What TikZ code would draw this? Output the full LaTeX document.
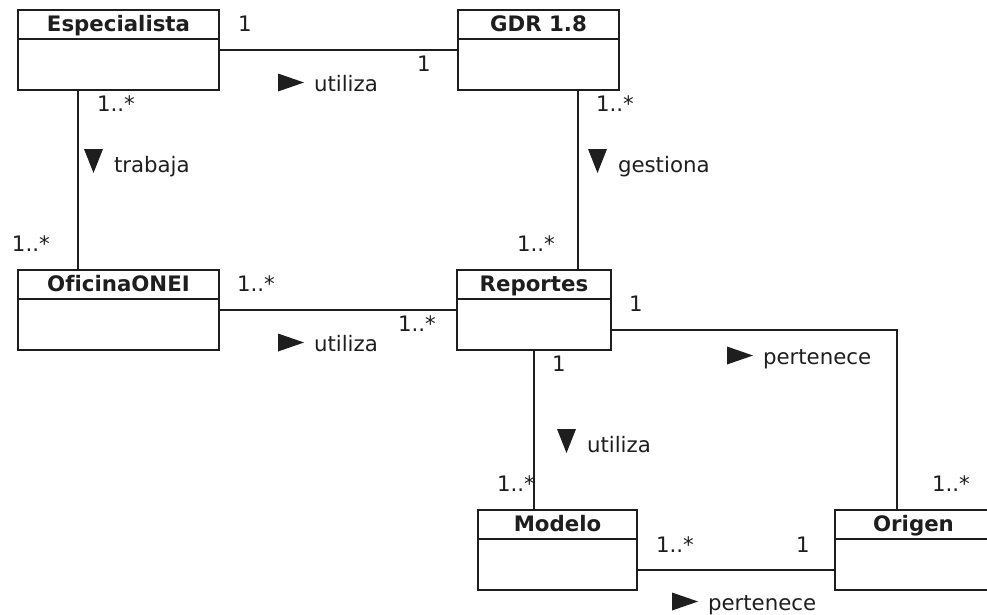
\documentclass[tikz,border=0pt]{standalone}
\usepackage{fontspec}
\setmainfont[Ligatures=NoCommon]{DejaVu Sans}
\usetikzlibrary{calc}
\definecolor{ink}{HTML}{1E1E1E}
\begin{document}
\begin{tikzpicture}[x=1pt, y=-1pt, line width=2pt, color=ink,
  umlclass/.style={draw=ink, fill=white, rectangle, inner sep=0pt, outer sep=0pt, minimum height=80pt},
  classname/.style={font=\fontsize{21.3}{25}\selectfont\bfseries, text=ink, inner sep=0pt, anchor=base},
  mult/.style={font=\fontsize{21.3}{25}\selectfont, text=ink, inner sep=0pt, anchor=base west},
  rolename/.style={font=\fontsize{21.3}{25}\selectfont, text=ink, inner sep=0pt, anchor=base west},
  assoc/.style={draw=ink, line width=2pt}]
\useasboundingbox (0,0) rectangle (987,614);
\clip (0,0) rectangle (987,614);

% class boxes
\node[umlclass, minimum width=201pt] (esp) at (118.5,49.5) {};
\node[umlclass, minimum width=161pt] (gdr) at (538.5,49.5) {};
\node[umlclass, minimum width=201pt] (ofi) at (118.5,309.5) {};
\node[umlclass, minimum width=154pt] (rep) at (534,309.5) {};
\node[umlclass, minimum width=159pt] (mod) at (557.5,550) {};
\node[umlclass, minimum width=157pt] (ori) at (913.5,550) {};

% header compartments and names
\foreach \c/\t in {esp/Especialista, gdr/GDR 1.8, ofi/OficinaONEI, rep/Reportes, mod/Modelo, ori/Origen}{
  \draw[line width=2pt] ([yshift=-29pt]\c.north west) -- ([yshift=-29pt]\c.north east);
  \node[classname] (\c-name) at ([yshift=-21.5pt]\c.north) {\t};
}

% associations
\draw[assoc] (esp.east) -- (gdr.west);
\draw[assoc] ([xshift=-40.5pt]esp.south) -- ([xshift=-40.5pt]ofi.north);
\draw[assoc] ([xshift=39.5pt]gdr.south) -- ([xshift=39.5pt]gdr.south |- rep.north);
\draw[assoc] (ofi.east) -- (rep.west);
\draw[assoc] ([yshift=-20.5pt]rep.east) -| ([xshift=-16.5pt]ori.north);
\draw[assoc] (rep.south) -- (rep.south |- mod.north);
\draw[assoc] ([yshift=-20pt]mod.east) -- ([yshift=-20pt]mod.east -| ori.west);

% multiplicities
\node[mult] (m1) at (237,31) {1};
\node[mult] (m2) at (416,71) {1};
\node[mult] (m3) at (96,111) {1..*};
\node[mult] (m4) at (11,251) {1..*};
\node[mult] (m5) at (595,111) {1..*};
\node[mult] (m6) at (516,251) {1..*};
\node[mult] (m7) at (236,291) {1..*};
\node[mult] (m8) at (397,331) {1..*};
\node[mult] (m9) at (628,311) {1};
\node[mult] (m10) at (551,371) {1};
\node[mult] (m11) at (496,491) {1..*};
\node[mult] (m12) at (931,491) {1..*};
\node[mult] (m13) at (655,552) {1..*};
\node[mult] (m14) at (795,552) {1};

% association names with reading-direction triangles
\node[rolename] (r1) at (313,91) {utiliza};
\fill ([xshift=-9pt,yshift=8.5pt]r1.base west) -- ++(-26,-9) -- ++(0,18) -- cycle;
\node[rolename] (r2) at (313,351) {utiliza};
\fill ([xshift=-9pt,yshift=8.5pt]r2.base west) -- ++(-26,-9) -- ++(0,18) -- cycle;
\node[rolename] (r3) at (762,364) {pertenece};
\fill ([xshift=-9pt,yshift=8.5pt]r3.base west) -- ++(-26,-9) -- ++(0,18) -- cycle;
\node[rolename] (r4) at (707,610) {pertenece};
\fill ([xshift=-9pt,yshift=8.5pt]r4.base west) -- ++(-26,-9) -- ++(0,18) -- cycle;
\node[rolename] (r5) at (113,172) {trabaja};
\fill ([xshift=-19.5pt,yshift=-1pt]r5.base west) -- ++(-9.5,-24) -- ++(19,0) -- cycle;
\node[rolename] (r6) at (617,172) {gestiona};
\fill ([xshift=-19.5pt,yshift=-1pt]r6.base west) -- ++(-9.5,-24) -- ++(19,0) -- cycle;
\node[rolename] (r7) at (586,452) {utiliza};
\fill ([xshift=-19.5pt,yshift=-1pt]r7.base west) -- ++(-9.5,-24) -- ++(19,0) -- cycle;
\end{tikzpicture}
\end{document}
